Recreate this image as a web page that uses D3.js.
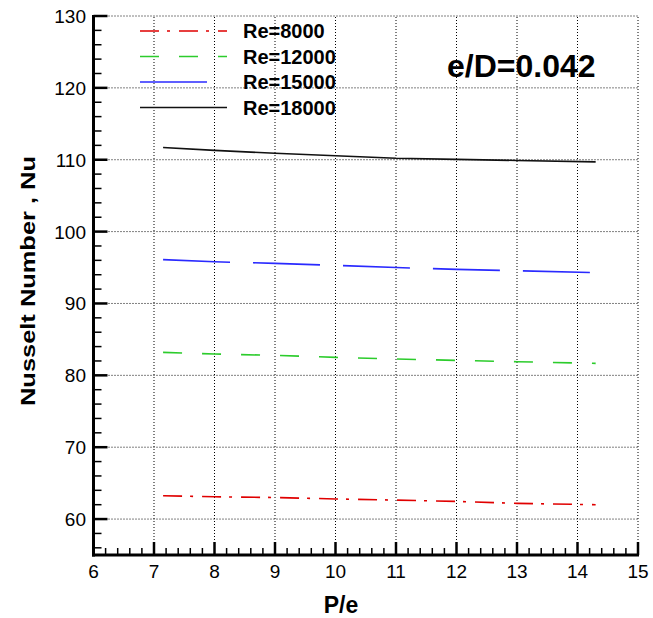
<!DOCTYPE html>
<html>
<head>
<meta charset="utf-8">
<script src="https://cdn.jsdelivr.net/npm/d3@7"></script>
<style>
  body { margin: 0; background: #fff; }
  text { font-family: "Liberation Sans", Arial, sans-serif; }
</style>
</head>
<body>
<div id="chart"></div>
<script>
// values
var pe = [7.15, 8, 9, 10, 11, 12, 13, 14.3];
var nu8000 = [63.24, 63.1, 63.0, 62.8, 62.64, 62.46, 62.18, 62.0];
var nu12000 = [83.2, 82.97, 82.78, 82.5, 82.27, 82.08, 81.9, 81.67];
var nu15000 = [96.1, 95.8, 95.58, 95.3, 95.0, 94.75, 94.55, 94.3];
var nu18000 = [111.7, 111.3, 110.9, 110.56, 110.2, 110.05, 109.9, 109.7];
var seriesNames = ["Re=8000", "Re=12000", "Re=15000", "Re=18000"];
var xTicks = [6, 7, 8, 9, 10, 11, 12, 13, 14, 15];
var yTicks = [60, 70, 80, 90, 100, 110, 120, 130];

var series = [
  { name: seriesNames[0], values: nu8000, color: "#e00000", dash: "19,8,3,9" },
  { name: seriesNames[1], values: nu12000, color: "#2ccc2c", dash: "19,20" },
  { name: seriesNames[2], values: nu15000, color: "#2a2aff", dash: "67,23" },
  { name: seriesNames[3], values: nu18000, color: "#111111", dash: null }
];

var W = 653, H = 618;
var svg = d3.select("#chart").append("svg")
  .attr("width", W).attr("height", H);

var x = d3.scaleLinear().domain([6, 15]).range([93.5, 638]);
var y = d3.scaleLinear().domain([55, 130]).range([555, 16]);

// dotted grid
svg.append("g").selectAll("line").data(xTicks.slice(1)).enter().append("line")
  .attr("x1", function (d) { return x(d) }).attr("x2", function (d) { return x(d) })
  .attr("y1", y(55)).attr("y2", y(130))
  .attr("stroke", "#000").attr("stroke-width", 1).attr("stroke-dasharray", "1,2");
svg.append("g").selectAll("line").data(yTicks).enter().append("line")
  .attr("x1", x(6)).attr("x2", x(15))
  .attr("y1", function (d) { return y(d) }).attr("y2", function (d) { return y(d) })
  .attr("stroke", "#000").attr("stroke-width", 1).attr("stroke-dasharray", "1,2");

// minor ticks
var xMinor = d3.range(6, 15.001, 0.2).filter(function (v) { return Math.abs(v - Math.round(v)) > 0.01 });
var yMinor = d3.range(56, 130, 2).filter(function (v) { return v % 10 !== 0 });

svg.append("g").selectAll("line").data(xMinor).enter().append("line")
  .attr("x1", function (d) { return x(d) }).attr("x2", function (d) { return x(d) })
  .attr("y1", y(55)).attr("y2", y(55) - 7)
  .attr("stroke", "#000").attr("stroke-width", 1.5);
svg.append("g").selectAll("line").data(xTicks).enter().append("line")
  .attr("x1", function (d) { return x(d) }).attr("x2", function (d) { return x(d) })
  .attr("y1", y(55)).attr("y2", y(55) - 13)
  .attr("stroke", "#000").attr("stroke-width", 2.5);

svg.append("g").selectAll("line").data(yMinor).enter().append("line")
  .attr("x1", x(6)).attr("x2", x(6) + 8)
  .attr("y1", function (d) { return y(d) }).attr("y2", function (d) { return y(d) })
  .attr("stroke", "#000").attr("stroke-width", 1.5);
svg.append("g").selectAll("line").data(yTicks).enter().append("line")
  .attr("x1", x(6)).attr("x2", x(6) + 14)
  .attr("y1", function (d) { return y(d) }).attr("y2", function (d) { return y(d) })
  .attr("stroke", "#000").attr("stroke-width", 2.5);

// axis lines
svg.append("line").attr("x1", x(6)).attr("x2", x(6)).attr("y1", y(130) - 1).attr("y2", y(55) + 1.5)
  .attr("stroke", "#000").attr("stroke-width", 3);
svg.append("line").attr("x1", x(6) - 1.5).attr("x2", x(15) + 1).attr("y1", y(55)).attr("y2", y(55))
  .attr("stroke", "#000").attr("stroke-width", 3);

// tick labels
svg.append("g").selectAll("text").data(xTicks).enter().append("text")
  .attr("x", function (d) { return x(d) }).attr("y", 578)
  .attr("text-anchor", "middle").style("font-size", "19px")
  .text(function (d) { return d });
svg.append("g").selectAll("text").data(yTicks).enter().append("text")
  .attr("x", 86).attr("y", function (d) { return y(d) + 7 })
  .attr("text-anchor", "end").style("font-size", "19px")
  .text(function (d) { return d });

// axis titles
svg.append("text").attr("x", 341).attr("y", 613)
  .attr("text-anchor", "middle").style("font-size", "23px").style("font-weight", "bold")
  .text("P/e");
svg.append("text")
  .attr("transform", "translate(35,281) rotate(-90)")
  .attr("text-anchor", "middle").style("font-size", "20px").style("font-weight", "bold")
  .attr("textLength", 250).attr("lengthAdjust", "spacingAndGlyphs")
  .text("Nusselt Number , Nu");

// data lines
var line = d3.line()
  .x(function (d, i) { return x(pe[i]) })
  .y(function (d) { return y(d) });

svg.append("g").selectAll("path").data(series).enter().append("path")
  .attr("d", function (d) { return line(d.values) })
  .attr("fill", "none")
  .attr("stroke", function (d) { return d.color })
  .attr("stroke-width", 1.6)
  .attr("stroke-dasharray", function (d) { return d.dash });

// legend
var legY = [31, 56.5, 82, 107.5];
var leg = svg.append("g").selectAll("g").data(series).enter().append("g")
  .attr("transform", function (d, i) { return "translate(0," + legY[i] + ")" });
leg.append("line").attr("x1", 140).attr("x2", 227).attr("y1", 0).attr("y2", 0)
  .attr("stroke", function (d) { return d.color })
  .attr("stroke-width", 1.6)
  .attr("stroke-dasharray", function (d) { return d.dash });
leg.append("text").attr("x", 243).attr("y", 7)
  .style("font-size", "20px").style("font-weight", "bold")
  .text(function (d) { return d.name });

svg.append("text").attr("x", 447).attr("y", 77)
  .style("font-size", "32px").style("font-weight", "bold")
  .text("e/D=0.042");
</script>
</body>
</html>
